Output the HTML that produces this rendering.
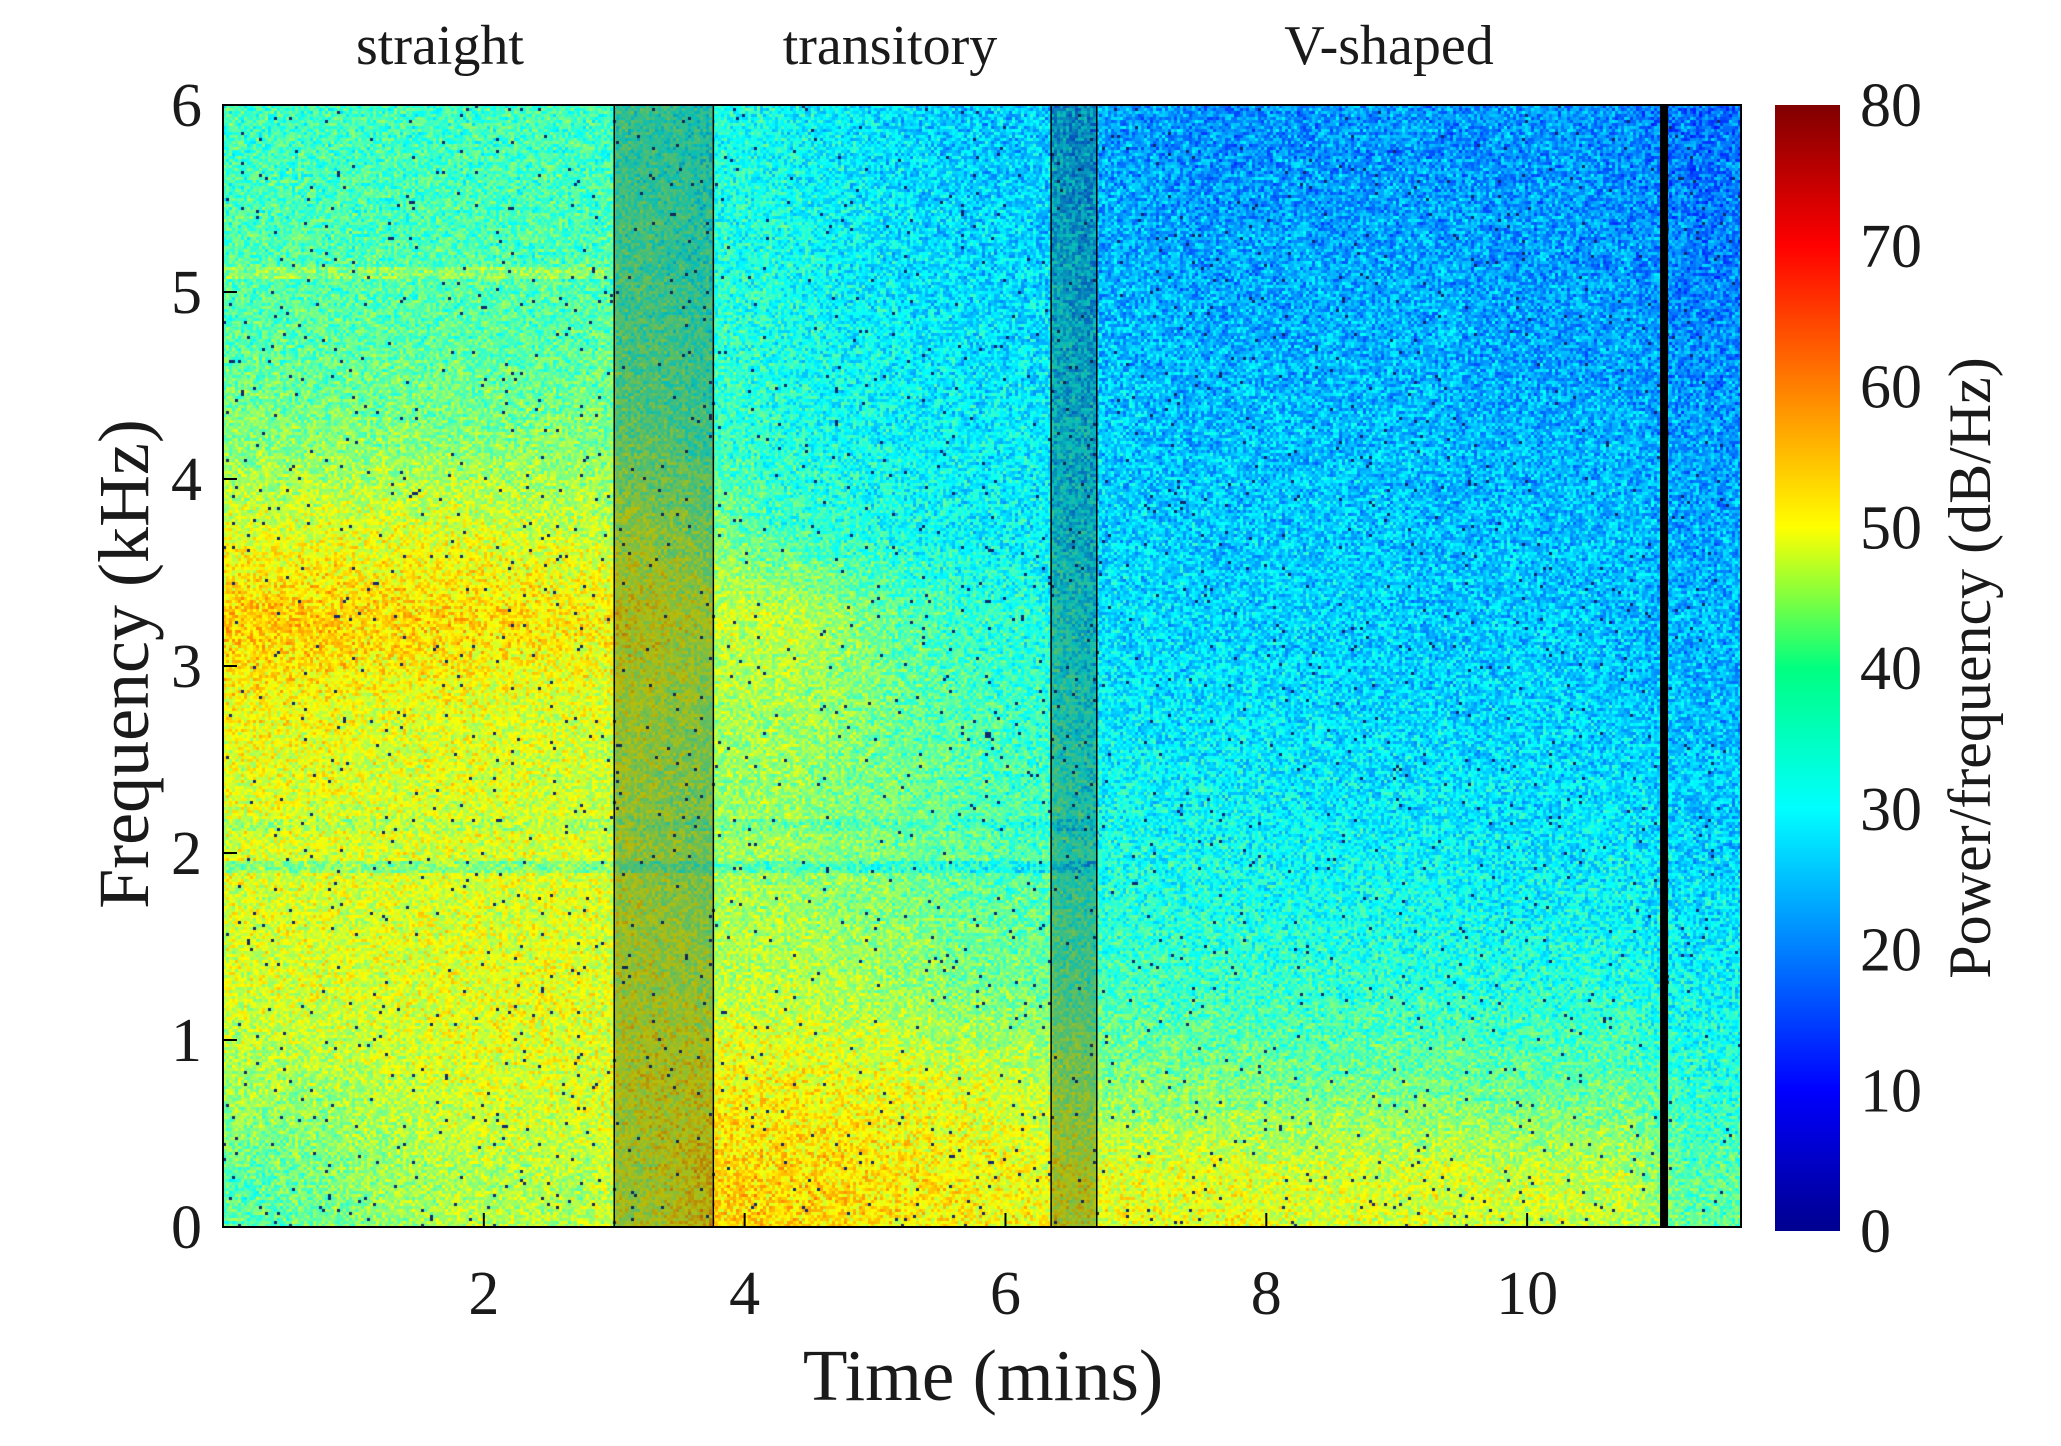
<!DOCTYPE html>
<html><head><meta charset="utf-8"><style>
html,body{margin:0;padding:0;background:#fff;width:2061px;height:1446px;overflow:hidden}
#heat{position:absolute;left:223px;top:105px}
#ov{position:absolute;left:0;top:0}
text{font-family:"Liberation Serif",serif;fill:#1a1a1a}
</style></head><body>
<canvas id="heat" width="1518" height="1122"></canvas>
<svg id="ov" width="2061" height="1446">
<defs><linearGradient id="jet" x1="0" y1="1" x2="0" y2="0">
<stop offset="0" stop-color="#00008f"/><stop offset="0.125" stop-color="#0000ff"/><stop offset="0.375" stop-color="#00ffff"/><stop offset="0.5" stop-color="#00ff80"/><stop offset="0.625" stop-color="#ffff00"/><stop offset="0.875" stop-color="#ff0000"/><stop offset="1" stop-color="#800000"/></linearGradient></defs>
<g id="bands"></g>
<rect x="223" y="105" width="1518" height="1122" fill="none" stroke="#000" stroke-width="2"/>
<g id="xt"></g><g id="yt"></g>
<rect x="1775" y="105" width="65" height="1126" fill="url(#jet)"/>
<g id="ct"></g>
<text x="440" y="64" font-size="56" text-anchor="middle">straight</text>
<text x="890" y="64" font-size="56" text-anchor="middle">transitory</text>
<text x="1389" y="64" font-size="56" text-anchor="middle">V-shaped</text>
<text x="983" y="1400" font-size="73" text-anchor="middle">Time (mins)</text>
<text transform="translate(148,664) rotate(-90)" font-size="72" text-anchor="middle">Frequency (kHz)</text>
<text transform="translate(1990,668) rotate(-90)" font-size="60" text-anchor="middle">Power/frequency (dB/Hz)</text>
</svg>
<script>
const tMin=0,tMax=11.64,fMin=0,fMax=6;
const timeCenters=[0.25,0.75,1.25,1.75,2.25,2.75,3.25,3.75,4.25,4.75,5.25,5.75,6.25,6.75,7.25,7.75,8.25,8.75,9.25,9.75,10.25,10.75,11.25,11.75];
const freqCenters=[5.75,5.25,4.75,4.25,3.75,3.25,2.75,2.25,1.75,1.25,0.75,0.25];
const f575=[35,35,35,35,35,35,35,32,31,29,27,26,26,23,22,21,22,22,22,22,22,21,19,19];
const f525=[36,36,36,36,36,36,36,33,32,30,28,27,27,24,23,23,23,23,23,23,22,22,20,20];
const f475=[37,37,37,37,37,37,37,34,32,30,29,28,28,25,24,24,24,24,24,23,23,23,21,21];
const f425=[40,40,40,40,40,40,39,35,33,31,30,29,29,26,25,25,25,25,25,24,24,24,22,22];
const f375=[47,47,47,47,46,45,44,40,35,33,31,30,29,27,26,26,26,26,25,25,25,25,23,23];
const f325=[54,54,53,53,52,51,50,46,46,42,37,34,33,28,27,27,27,26,26,26,26,25,24,24];
const f275=[49,49,48,48,47,47,46,43,43,41,38,36,34,29,28,28,28,27,27,27,27,26,25,25];
const f225=[47,47,47,47,47,46,45,42,42,40,39,37,35,31,30,30,29,29,29,28,28,28,26,26];
const f175=[47,47,47,47,47,47,46,43,43,41,40,38,37,33,32,32,31,31,31,30,30,30,28,28];
const f125=[47,47,47,48,48,48,47,45,45,44,42,40,39,36,35,35,34,34,33,33,33,33,30,30];
const f075=[43,43,45,47,47,47,49,50,50,49,48,47,45,41,40,40,39,39,39,38,38,38,33,33];
const f025=[37,39,42,44,44,44,47,53,53,52,51,50,49,48,48,48,47,47,47,46,46,45,37,37];
const grid=[f575,f525,f475,f425,f375,f325,f275,f225,f175,f125,f075,f025];
const lineFreqs=[1.93,2.15,5.1];
const lineDelta=[-6,-3,5];
const lineEnd=[6.7,6.7,3.0];
const shadeStart=[3.0,6.35];
const shadeEnd=[3.76,6.7];
const blackLine=[11.05];
const xTicks=[2,4,6,8,10];
const yTicks=[0,1,2,3,4,5,6];
const cTicks=[0,10,20,30,40,50,60,70,80];

const X0=223,X1=1741,Y0=105,Y1=1227;
const xs=t=>X0+(t-tMin)/(tMax-tMin)*(X1-X0);
const ys=f=>Y1-(f-fMin)/(fMax-fMin)*(Y1-Y0);
const cs=v=>1231-v/80*(1231-105);
function jet(v){let x=Math.max(0,Math.min(1,v/80));
 const r=Math.max(0,Math.min(1,1.5-Math.abs(4*x-3))),g=Math.max(0,Math.min(1,1.5-Math.abs(4*x-2))),b=Math.max(0,Math.min(1,1.5-Math.abs(4*x-1)));
 return [r*255|0,g*255|0,b*255|0];}
function hash(i,j){let h=(i*374761393+j*668265263)|0;h=(h^(h>>>13))*1274126177|0;h=h^(h>>>16);return ((h>>>0)%10000)/10000;}
function interp(vals,v){
 if(v<=vals[0])return 0;if(v>=vals[vals.length-1])return vals.length-1;
 for(let k=0;k<vals.length-1;k++){if(v>=vals[k]&&v<=vals[k+1])return k+(v-vals[k])/(vals[k+1]-vals[k]);}return 0;}
const fAsc=freqCenters.slice().reverse();
function val(t,f){
 const ci=interp(timeCenters,t);const rAsc=interp(fAsc,f);const ri=grid.length-1-rAsc;
 const c0=Math.floor(ci),c1=Math.min(c0+1,timeCenters.length-1),ct=ci-c0;
 const r0=Math.floor(ri),r1=Math.min(r0+1,grid.length-1),rt=ri-r0;
 const a=grid[r0][c0]*(1-ct)+grid[r0][c1]*ct,b=grid[r1][c0]*(1-ct)+grid[r1][c1]*ct;
 let v=a*(1-rt)+b*rt;
 for(let k=0;k<lineFreqs.length;k++){if(Math.abs(f-lineFreqs[k])<0.035&&t<lineEnd[k])v+=lineDelta[k];}
 return v;}
const cv=document.getElementById('heat');const ctx=cv.getContext('2d');
const img=ctx.createImageData(cv.width,cv.height);const cell=3;
for(let py=0;py<cv.height;py+=cell){for(let px=0;px<cv.width;px+=cell){
 const t=tMin+(px+cell/2)/cv.width*(tMax-tMin);const f=fMax-(py+cell/2)/cv.height*(fMax-fMin);
 let v=val(t,f);const i=px/cell|0,j=py/cell|0;const n=hash(i,j);
 v+=(n-0.5)*12+(hash(j,i)-0.5)*5;
 let col=jet(v);if(hash(i+7,j+13)<0.012)col=[20,40,110];
 for(let dy=0;dy<cell&&py+dy<cv.height;dy++)for(let dx=0;dx<cell&&px+dx<cv.width;dx++){
  const o=((py+dy)*cv.width+px+dx)*4;img.data[o]=col[0];img.data[o+1]=col[1];img.data[o+2]=col[2];img.data[o+3]=255;}}}
ctx.putImageData(img,0,0);
const NS='http://www.w3.org/2000/svg';
function mk(tag,attrs,parent){const e=document.createElementNS(NS,tag);for(const k in attrs)e.setAttribute(k,attrs[k]);parent.appendChild(e);return e;}
const bands=document.getElementById('bands');
shadeStart.forEach((s,k)=>{
 const r=mk('rect',{x:xs(s),y:Y0,width:xs(shadeEnd[k])-xs(s),height:Y1-Y0,fill:'rgba(20,40,30,0.3)',stroke:'#000','stroke-width':1.5},bands);
 
 });
blackLine.forEach(t=>{const l=mk('line',{x1:xs(t),x2:xs(t),y1:Y0,y2:Y1,stroke:'#000','stroke-width':8},bands);
 
 });
const xt=document.getElementById('xt');
xTicks.forEach(t=>{const l=mk('line',{x1:xs(t),x2:xs(t),y1:Y1,y2:Y1-14,stroke:'#000','stroke-width':2},xt);
 
 
 const tx=mk('text',{x:xs(t),y:1314,'font-size':62,'text-anchor':'middle'},xt);tx.textContent=t;
 
 });
const yt=document.getElementById('yt');
yTicks.forEach(f=>{const l=mk('line',{x1:X0,x2:X0+14,y1:ys(f),y2:ys(f),stroke:'#000','stroke-width':2},yt);
 
 
 const tx=mk('text',{x:202,y:ys(f)+21,'font-size':62,'text-anchor':'end'},yt);tx.textContent=f;
 
 });
const ct=document.getElementById('ct');
cTicks.forEach(v=>{const tx=mk('text',{x:1860,y:cs(v)+21,'font-size':62},ct);tx.textContent=v;
 
 });
</script>
</body></html>
